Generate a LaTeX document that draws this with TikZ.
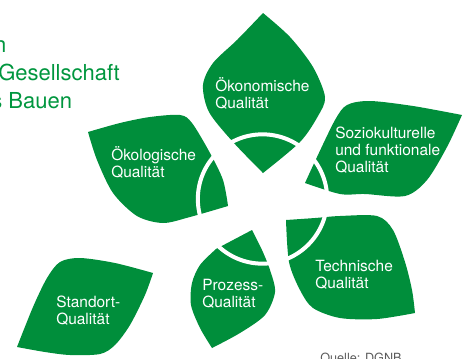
\documentclass[tikz,border=0pt]{standalone}
\usepackage{fontspec}
\setmainfont{TeX Gyre Heros}
\definecolor{dgnbgreen}{RGB}{0,142,59}
\definecolor{headgreen}{RGB}{0,150,62}
\definecolor{notegray}{RGB}{90,90,90}
\begin{document}
\begin{tikzpicture}[x=0.75pt,y=-0.75pt,
  leaf/.style={fill=dgnbgreen},
  leaflabel/.style={text=white, font=\fontsize{11.6}{12.75}\selectfont, align=left, inner sep=0pt, anchor=base west},
  headline/.style={text=headgreen, font=\fontsize{16.5}{21}\selectfont, inner sep=0pt},
  ring/.style={draw=white, line width=3pt},
]
\useasboundingbox (0,0) rectangle (464,358);
\clip (0,0) rectangle (464,358);

% heading, running off the left edge
\node[headline, anchor=base east] (h1) at (6.5,52) {n};
\node[headline, anchor=base west] (h2) at (-2,80) {Gesellschaft};
\node[headline, anchor=base west] (h3) at (-9,108) {s Bauen};

% economic quality (top leaf)
\fill[leaf] (263,13)
  -- plot[smooth] coordinates {(263,13) (237,40) (213,63) (203,85) (209,112) (233,142) (263,173)}
  -- plot[smooth] coordinates {(263,173) (300,142) (318,116) (325,97) (313,67) (290,37) (263,13)}
  -- cycle;

% socio-cultural quality (right leaf)
\fill[leaf] (305,183)
  -- plot[smooth] coordinates {(305,183) (317,157) (335,120) (347,105) (370,101) (413,106) (462,115)}
  -- plot[smooth] coordinates {(462,115) (447,147) (427,180) (405,196) (365,194) (340,194) (305,183)}
  -- cycle;

% technical quality (lower right leaf)
\fill[leaf] (286,220)
  -- plot[smooth] coordinates {(286,220) (315,218) (340,216) (377,216) (393,230) (405,262) (412,290) (415,313)}
  -- plot[smooth] coordinates {(415,313) (377,319) (340,318) (313,308) (300,290) (289,262) (286,220)}
  -- cycle;

% process quality (bottom leaf)
\fill[leaf] (252,230)
  -- plot[smooth] coordinates {(252,230) (262,250) (270,270) (275,292) (265,315) (240,333) (212,348)}
  -- plot[smooth] coordinates {(212,348) (200,328) (191,305) (192,283) (200,265) (216,249)}
  -- cycle;

% ecological quality (left leaf)
\fill[leaf] (88,132)
  -- plot[smooth] coordinates {(88,132) (120,123) (150,117) (180,115) (192,123) (210,153) (223,180) (228,206)}
  -- plot[smooth] coordinates {(228,206) (190,217) (163,223) (137,216) (113,193) (97,160) (88,132)}
  -- cycle;

% site quality (separate leaf)
\fill[leaf] (17,347)
  -- plot[smooth] coordinates {(17,347) (33,307) (47,278) (60,262) (80,258) (115,263) (153,273)}
  -- plot[smooth] coordinates {(153,273) (145,295) (130,325) (115,345) (100,354) (70,355) (45,352) (17,347)}
  -- cycle;

% white ring across the inner leaves
\draw[ring] (262.5,199) circle[radius=48.5pt];

% leaf labels (anchored on the baseline of the last line)
\node[leaflabel] (oekon) at (215,108) {Ökonomische\\Qualität};
\node[leaflabel] (sozio) at (335,172) {Soziokulturelle\\und funktionale\\Qualität};
\node[leaflabel] (techn) at (315,288) {Technische\\Qualität};
\node[leaflabel] (proz) at (202,307) {Prozess-\\Qualität};
\node[leaflabel] (oekol) at (111,177) {Ökologische\\Qualität};
\node[leaflabel] (stand) at (56,324) {Standort-\\Qualität};

% source line, cut by the lower edge
\node[text=notegray, font=\fontsize{9.5}{11}\selectfont, inner sep=0pt, anchor=base west] (src) at (320,362) {Quelle: DGNB};
\end{tikzpicture}
\end{document}
